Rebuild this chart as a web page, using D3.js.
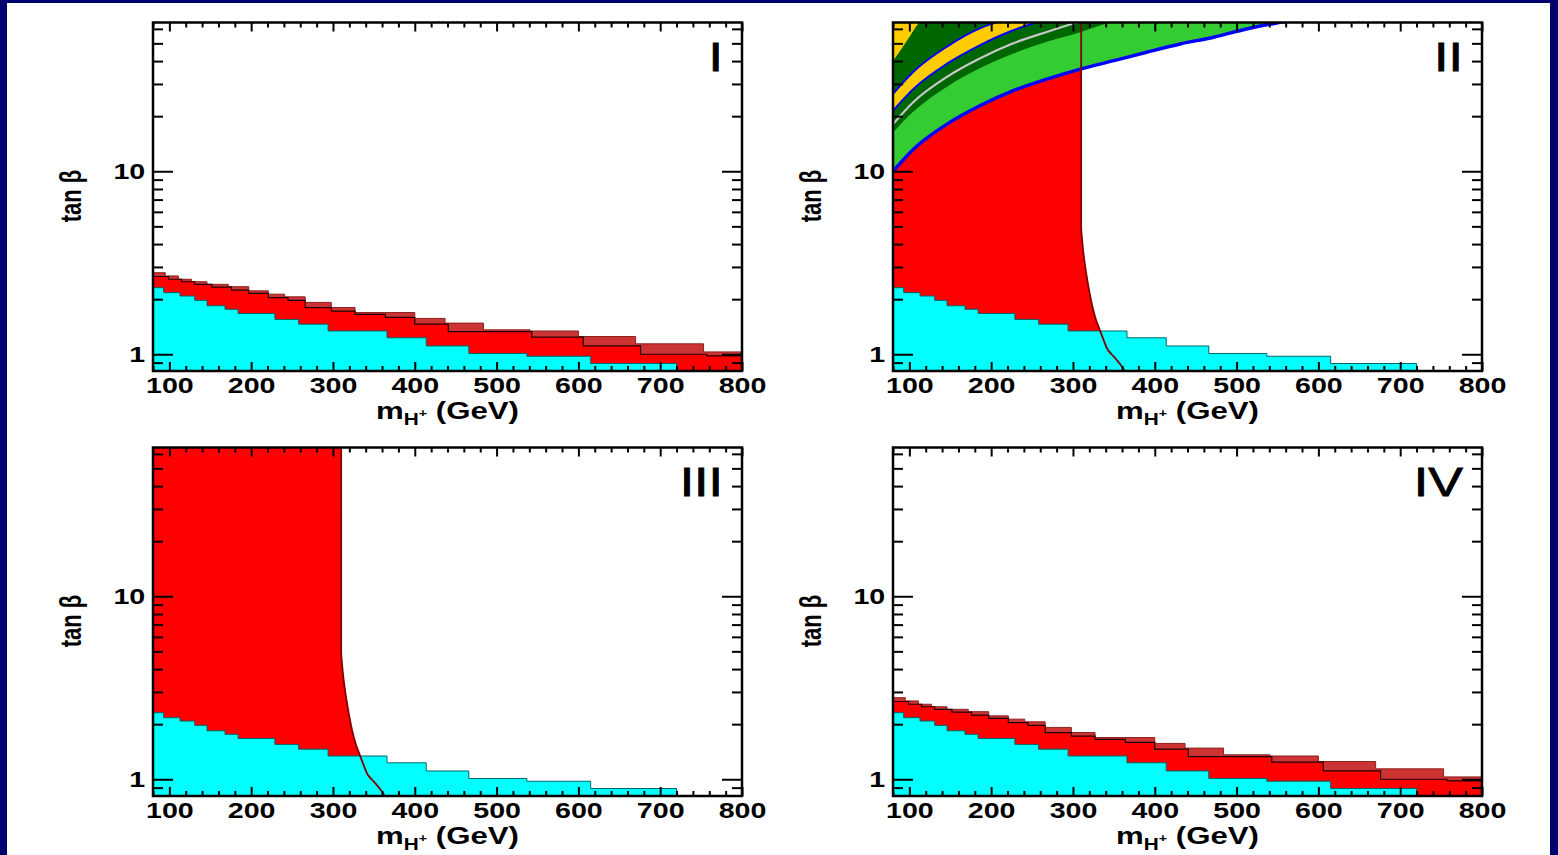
<!DOCTYPE html>
<html>
<head>
<meta charset="utf-8">
<script src="https://cdn.jsdelivr.net/npm/d3@7"></script>
<style>
  body { margin: 0; background: #00006e; }
  svg { display: block; }
</style>
</head>
<body>
<svg id="chart" width="1558" height="855"></svg>
<script>
// axis ranges and ticks
const massDomain = [80, 800];
const tanDomain = [0.81, 65];
const xTickLabels = [100, 200, 300, 400, 500, 600, 700, 800];
const xMinorTicks = d3.range(80, 801, 20).filter(d => d % 100 !== 0);
const yTickLabels = [1, 10];
const yMinorTicks = [0.9, 2, 3, 4, 5, 6, 7, 8, 9, 20, 30, 40, 50, 60];
const panelNames = ['I', 'II', 'III', 'IV'];

// cyan excluded region (same in every panel), step edges in GeV
const cyanEdges = [80, 93, 113, 131, 146, 168, 184, 229, 258, 294, 366, 414, 466, 537, 615, 720];
const cyanTan = [2.31, 2.17, 2.08, 1.97, 1.84, 1.76, 1.67, 1.55, 1.46, 1.34, 1.23, 1.11, 1.01, 0.975, 0.89];

// panels I and IV: red limit and its darker band
const redEdges = [80, 99, 115, 131, 152, 176, 197, 221, 245, 266, 298, 327, 364, 400, 441, 543, 606, 676, 757, 800];
const redTan = [2.66, 2.57, 2.49, 2.41, 2.33, 2.24, 2.15, 2.04, 1.97, 1.80, 1.72, 1.65, 1.59, 1.46, 1.33, 1.24, 1.11, 1.00, 0.98];
const bandEdges = [80, 95, 111, 127, 146, 172, 197, 221, 241, 266, 298, 327, 400, 437, 484, 541, 600, 670, 753, 800];
const bandTan = [2.79, 2.68, 2.57, 2.49, 2.41, 2.34, 2.22, 2.13, 2.06, 1.92, 1.80, 1.69, 1.57, 1.48, 1.36, 1.34, 1.25, 1.14, 1.03];

// panels II and III: b -> s gamma line
const limitMass = [310, 310, 311, 313, 316, 320, 324, 328, 333, 338, 343, 350, 358, 364];
const limitTan = [70, 5.0, 4.3, 3.5, 2.8, 2.2, 1.8, 1.55, 1.35, 1.18, 1.05, 0.97, 0.88, 0.80];

// panel II: curves at high tan beta
const blueMass = [80, 105, 146, 186, 227, 268, 309, 350, 390, 431, 472, 512, 549, 575];
const blueTan = [10.0, 13.2, 18.1, 22.8, 27.6, 31.9, 36.2, 40.2, 44.7, 49.6, 54.0, 59.9, 64.6, 67.5];
const greenMass = [80, 105, 146, 186, 227, 268, 309, 345, 365];
const greenTan = [16.3, 21.2, 29.0, 36.5, 44.0, 51.0, 57.5, 65, 68];
const grayMass = [80, 105, 146, 186, 227, 268, 305, 325];
const grayTan = [18.1, 23.9, 32.8, 41.3, 50.0, 57.7, 65, 68];
const blue2Mass = [80, 105, 146, 186, 227, 255, 270];
const blue2Tan = [21.4, 28.2, 38.7, 48.8, 59.0, 65, 68];
const blue3Mass = [80, 105, 146, 186, 205, 220];
const blue3Tan = [26.5, 35.0, 48.0, 60.4, 65, 69];
const yellowMass = [80, 95, 112, 122];
const yellowTan = [40, 50, 65, 72];

const W = 589, H = 348.5;
const FONT = '"Liberation Sans", Arial, Helvetica, sans-serif';
const STRETCH = 'scale(1.3,1)';

const panels = [
  { left: 153, top: 22.5, kind: 'band' },
  { left: 893, top: 22.5, kind: 'sat' },
  { left: 153, top: 447.5, kind: 'line' },
  { left: 893, top: 447.5, kind: 'band' }
];

const svg = d3.select('#chart');
svg.append('rect').attr('width', 1558).attr('height', 855).attr('fill', '#00006e');
svg.append('rect').attr('x', 7).attr('y', 3).attr('width', 1543).attr('height', 852).attr('fill', '#fff');

function steps(edges, vals) {
  return edges.map((e, i) => [e, vals[Math.min(i, vals.length - 1)]]);
}
function pts(ms, ts) {
  return ms.map((m, i) => [m, ts[i]]);
}

panels.forEach((p, idx) => {
  const g = svg.append('g').attr('transform', `translate(${p.left},${p.top})`);
  const x = d3.scaleLinear().domain(massDomain).range([0, W]);
  const y = d3.scaleLog().domain(tanDomain).range([H, 0]);

  const clipId = 'plotclip' + idx;
  g.append('clipPath').attr('id', clipId).append('rect').attr('width', W).attr('height', H);
  const plot = g.append('g').attr('clip-path', `url(#${clipId})`);

  const stepArea = d3.area().x(d => x(d[0])).y0(H + 5).y1(d => y(d[1])).curve(d3.curveStepAfter);
  const stepLine = d3.line().x(d => x(d[0])).y(d => y(d[1])).curve(d3.curveStepAfter);
  const smooth = d3.line().x(d => x(d[0])).y(d => y(d[1])).curve(d3.curveMonotoneX);
  const vLine = d3.line().x(d => x(d[0])).y(d => y(d[1])).curve(d3.curveMonotoneY);
  const limitPath = vLine(pts(limitMass, limitTan));
  const leftOfLimit = limitPath + `L-10,${H + 10}L-10,-10Z`;

  if (p.kind === 'band') {
    const band = steps(bandEdges, bandTan);
    const red = steps(redEdges, redTan);
    plot.append('path').attr('d', stepArea(band)).attr('fill', '#cc3333');
    plot.append('path').attr('d', stepLine(band)).attr('fill', 'none')
      .attr('stroke', '#8f2020').attr('stroke-width', 1);
    plot.append('path').attr('d', stepArea(red)).attr('fill', '#ff0000');
    plot.append('path').attr('d', stepLine(red)).attr('fill', 'none')
      .attr('stroke', '#220000').attr('stroke-width', 1.2);
  }

  if (p.kind === 'sat') {
    const above = (ms, ts) => smooth(pts(ms, ts)) +
      `L${x(ms[ms.length - 1])},-10L-10,-10L-10,${y(ts[0])}Z`;
    plot.append('path').attr('d', above(blueMass, blueTan)).attr('fill', '#33cc33');
    plot.append('path').attr('d', above(greenMass, greenTan)).attr('fill', '#006600');
    plot.append('path').attr('d', above(blue2Mass, blue2Tan)).attr('fill', '#ffcc00');
    plot.append('path').attr('d', above(blue3Mass, blue3Tan)).attr('fill', '#006600');
    plot.append('path').attr('d', above(yellowMass, yellowTan)).attr('fill', '#ffcc00');

    const leftId = 'leftclip' + idx;
    g.append('clipPath').attr('id', leftId).append('path').attr('d', leftOfLimit);
    const below = smooth(pts(blueMass, blueTan)) +
      `L${x(blueMass[blueMass.length - 1])},${H + 10}L-10,${H + 10}L-10,${y(blueTan[0])}Z`;
    plot.append('g').attr('clip-path', `url(#${leftId})`)
      .append('path').attr('d', below).attr('fill', '#ff0000');
  }

  if (p.kind === 'line') {
    plot.append('path').attr('d', leftOfLimit).attr('fill', '#ff0000');
  }

  // cyan region
  const cyan = steps(cyanEdges, cyanTan);
  plot.append('path').attr('d', stepArea(cyan)).attr('fill', '#00ffff');
  plot.append('path').attr('d', stepLine(cyan.concat([[720, 0.78]]))).attr('fill', 'none')
    .attr('stroke', '#006666').attr('stroke-width', 1);

  if (p.kind === 'sat') {
    plot.append('path').attr('d', smooth(pts(grayMass, grayTan))).attr('fill', 'none')
      .attr('stroke', '#c8c8c8').attr('stroke-width', 2.2);
    plot.append('path').attr('d', smooth(pts(blue3Mass, blue3Tan))).attr('fill', 'none')
      .attr('stroke', '#0000ff').attr('stroke-width', 2);
    plot.append('path').attr('d', smooth(pts(blue2Mass, blue2Tan))).attr('fill', 'none')
      .attr('stroke', '#0000ff').attr('stroke-width', 2);
    plot.append('path').attr('d', smooth(pts(blueMass, blueTan))).attr('fill', 'none')
      .attr('stroke', '#0000ff').attr('stroke-width', 3.4);
  }
  if (p.kind === 'sat' || p.kind === 'line') {
    plot.append('path').attr('d', limitPath).attr('fill', 'none')
      .attr('stroke', '#800000').attr('stroke-width', 1.8);
  }

  // axes, ticks pointing inward on all four sides
  const styleAxis = sel => {
    sel.select('.domain').remove();
    sel.attr('font-family', FONT).attr('font-size', 22).attr('font-weight', 'bold');
    sel.selectAll('.tick line').attr('stroke', '#000').attr('stroke-width', 2);
    sel.selectAll('.tick text').attr('fill', '#000').attr('transform', STRETCH);
  };
  g.append('g').attr('transform', `translate(0,${H})`)
    .call(d3.axisBottom(x).tickValues(xTickLabels).tickSize(-9).tickSizeOuter(0).tickPadding(6))
    .call(styleAxis);
  g.append('g').attr('transform', `translate(0,${H})`)
    .call(d3.axisBottom(x).tickValues(xMinorTicks).tickSize(-5).tickFormat(''))
    .call(styleAxis);
  g.append('g')
    .call(d3.axisTop(x).tickValues(xTickLabels).tickSize(-9).tickFormat(''))
    .call(styleAxis);
  g.append('g')
    .call(d3.axisTop(x).tickValues(xMinorTicks).tickSize(-5).tickFormat(''))
    .call(styleAxis);
  g.append('g')
    .call(d3.axisLeft(y).tickValues(yTickLabels).tickSize(-20).tickPadding(6).tickFormat(d3.format('d')))
    .call(styleAxis);
  g.append('g')
    .call(d3.axisLeft(y).tickValues(yMinorTicks).tickSize(-10).tickFormat(''))
    .call(styleAxis);
  g.append('g').attr('transform', `translate(${W},0)`)
    .call(d3.axisRight(y).tickValues(yTickLabels).tickSize(-20).tickFormat(''))
    .call(styleAxis);
  g.append('g').attr('transform', `translate(${W},0)`)
    .call(d3.axisRight(y).tickValues(yMinorTicks).tickSize(-10).tickFormat(''))
    .call(styleAxis);

  g.append('rect').attr('width', W).attr('height', H)
    .attr('fill', 'none').attr('stroke', '#000').attr('stroke-width', 2.5);

  // panel number
  g.append('text')
    .attr('transform', `translate(${W - 19},48.5) ${STRETCH}`)
    .attr('text-anchor', 'end')
    .attr('font-family', FONT).attr('font-size', 40)
    .attr('stroke', '#000').attr('stroke-width', 0.8)
    .text(panelNames[idx]);

  // y title
  g.append('text')
    .attr('transform', `translate(-82,${173.5}) ${STRETCH} rotate(-90)`)
    .attr('text-anchor', 'middle').attr('dominant-baseline', 'central')
    .attr('font-family', FONT).attr('font-size', 22).attr('font-weight', 'bold')
    .text('tan β');

  // x title
  const xt = g.append('text')
    .attr('transform', `translate(${W / 2},${H + 47.5}) ${STRETCH}`)
    .attr('text-anchor', 'middle')
    .attr('font-family', FONT).attr('font-size', 24).attr('font-weight', 'bold');
  xt.append('tspan').text('m');
  xt.append('tspan').attr('font-size', 16).attr('dy', 6).text('H');
  xt.append('tspan').attr('font-size', 11).attr('dy', -8).text('+');
  xt.append('tspan').attr('dy', 2).text(' (GeV)');
});
</script>
</body>
</html>
